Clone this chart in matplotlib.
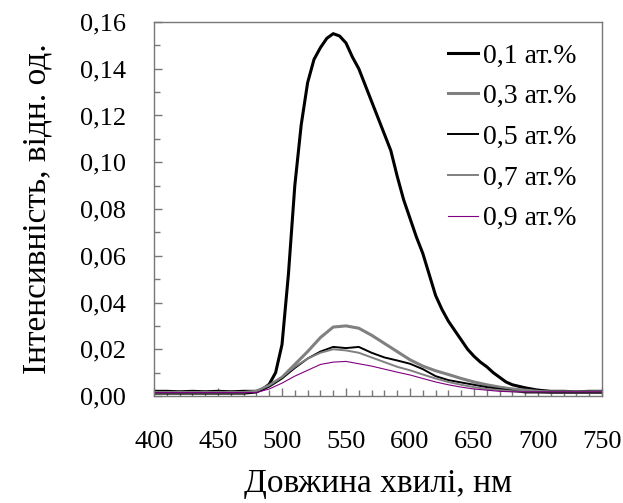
import matplotlib.pyplot as plt
import numpy as np

plt.rcParams['font.family'] = ['Liberation Serif', 'DejaVu Serif']

# main curve (0,1 at.%) on its own grid
wl1 = [400, 410, 420, 430, 440, 450, 460, 470, 480, 485, 490, 495, 500, 505,
       510, 515, 520, 525, 530, 535, 540, 545, 550, 555, 560, 565, 570, 575,
       580, 585, 590, 595, 600, 605, 610, 615, 620, 625, 630, 635, 640, 645,
       650, 655, 660, 665, 670, 675, 680, 690, 700, 710, 720, 730, 740, 750]
c01 = [0.002, 0.002, 0.0018, 0.002, 0.0018, 0.002, 0.0018, 0.002, 0.002, 0.003,
       0.005, 0.010, 0.022, 0.052, 0.090, 0.116, 0.134, 0.144, 0.149, 0.153,
       0.155, 0.154, 0.151, 0.145, 0.140, 0.133, 0.126, 0.119, 0.112, 0.105,
       0.094, 0.084, 0.076, 0.068, 0.061, 0.052, 0.043, 0.037, 0.032, 0.028,
       0.024, 0.020, 0.017, 0.0145, 0.0125, 0.010, 0.008, 0.006, 0.0048,
       0.0035, 0.0025, 0.002, 0.002, 0.0018, 0.002, 0.002]

# weaker curves, 10 nm grid
wl = list(range(400, 751, 10))
c03 = [0.0015] * 8 + [0.002, 0.0045, 0.008, 0.0135, 0.019, 0.025, 0.0295,
       0.030, 0.029, 0.026, 0.0225, 0.019, 0.0155, 0.0128, 0.0108, 0.0092,
       0.0075, 0.006, 0.0048, 0.0038, 0.003, 0.0025, 0.002] + [0.0015] * 5
c05 = [0.001] * 8 + [0.0015, 0.004, 0.0075, 0.012, 0.016, 0.019, 0.021,
       0.0205, 0.021, 0.0185, 0.0165, 0.0152, 0.0138, 0.0115, 0.0085, 0.0068,
       0.0058, 0.0048, 0.0038, 0.003, 0.0022] + [0.0015] * 7
c07 = [0.0015] * 8 + [0.002, 0.0045, 0.008, 0.0125, 0.016, 0.0185, 0.020,
       0.0195, 0.0185, 0.0165, 0.0145, 0.0125, 0.011, 0.0092, 0.0075, 0.006,
       0.0048, 0.0038, 0.003, 0.0025] + [0.002] * 8
c09 = [0.0015] * 9 + [0.003, 0.0055, 0.0085, 0.011, 0.0135, 0.0145, 0.0148,
       0.0138, 0.0128, 0.0115, 0.0102, 0.009, 0.0075, 0.006, 0.0048, 0.0038,
       0.003, 0.0025, 0.002] + [0.0018] * 8

labels = ['0,1 ат.%', '0,3 ат.%', '0,5 ат.%', '0,7 ат.%', '0,9 ат.%']

fig = plt.figure(figsize=(6.23, 5.03), dpi=100)
ax = fig.add_axes([0.2472, 0.2127, 0.7191, 0.7436])

ax.plot(wl1, c01, color='black', lw=2.2, label=labels[0])
ax.plot(wl, c03, color='#808080', lw=2.2, label=labels[1])
ax.plot(wl, c05, color='black', lw=1.4, label=labels[2])
ax.plot(wl, c07, color='#808080', lw=1.4, label=labels[3])
ax.plot(wl, c09, color='#800080', lw=0.8, label=labels[4])

ax.set_xlim(400, 750)
ax.set_ylim(0, 0.16)
ax.set_xticks(np.arange(400, 751, 50))
ax.set_xticks(np.arange(400, 751, 10), minor=True)
ax.set_yticks(np.arange(0, 0.161, 0.02))
ax.set_yticks(np.arange(0, 0.161, 0.01), minor=True)
ax.set_yticklabels([('%.2f' % v).replace('.', ',') for v in np.arange(0, 0.161, 0.02)])

for s in ax.spines.values():
    s.set_color('#777777')
    s.set_linewidth(1)
ax.tick_params(which='both', direction='in', colors='#777777', labelcolor='black',
               labelsize=19, top=False, right=False)
ax.tick_params(which='major', length=6, width=1)
ax.tick_params(which='minor', length=4, width=1)
ax.tick_params(axis='y', pad=20)
ax.tick_params(axis='x', pad=25)

ax.set_xlabel('Довжина хвилі, нм', fontsize=24, labelpad=11)
ax.set_ylabel('Інтенсивність, відн. од.', fontsize=24, labelpad=20)

ax.legend(loc='upper right', bbox_to_anchor=(0.962, 0.966), borderaxespad=0,
          borderpad=0.3, frameon=False, fontsize=20, handlelength=1.08,
          handletextpad=0.18, labelspacing=0.55)

fig.savefig('out.png', dpi=100)
